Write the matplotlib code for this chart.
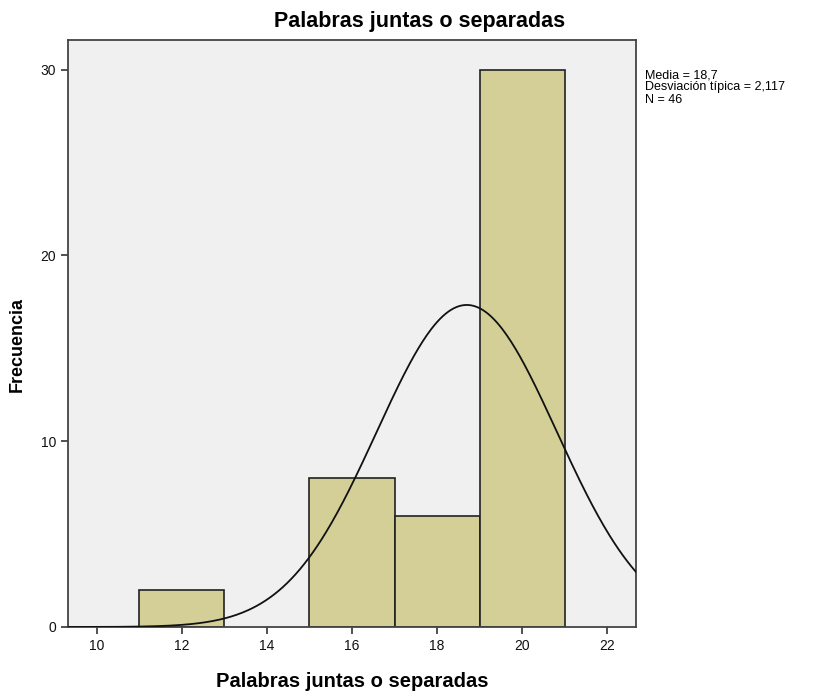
import numpy as np
import matplotlib.pyplot as plt

plt.rcParams['font.family'] = ['Liberation Sans', 'DejaVu Sans']

# histogram data
bin_left = [9, 11, 13, 15, 17, 19, 21]
counts = [0, 2, 0, 8, 6, 30, 0]
bin_width = 2
media = 18.7
desv = 2.117
n = 46

fig = plt.figure(figsize=(8.15, 6.91), dpi=100)
ax = fig.add_axes([68/815, 1-627/691, (636-68)/815, (627-40)/691])
ax.set_facecolor('#F0F0F0')

for x, c in zip(bin_left, counts):
    if c > 0:
        ax.bar(x, c, width=bin_width, align='edge', color='#D4CF97',
               edgecolor='#222222', linewidth=1.2, zorder=2)

# normal curve from the stats
xs = np.linspace(9.3, 22.7, 400)
ys = n * bin_width / (desv * np.sqrt(2*np.pi)) * np.exp(-0.5*((xs-media)/desv)**2)
ax.plot(xs, ys, color='#111111', linewidth=1.3, zorder=3)

ax.set_xlim(9.32, 22.68)
ax.set_ylim(0, 31.6)
ax.set_xticks([10, 12, 14, 16, 18, 20, 22])
ax.set_yticks([0, 10, 20, 30])
ax.tick_params(direction='out', length=5, width=1.2, color='#333333',
               labelsize=10, labelcolor='#111111')
for s in ax.spines.values():
    s.set_color('#444444')
    s.set_linewidth(1.3)

fig.text(420/815, 1-21/691, 'Palabras juntas o separadas', fontsize=15.5,
         fontweight='bold', ha='center', va='center')
ax.set_xlabel('Palabras juntas o separadas', fontsize=14.5, fontweight='bold', labelpad=14)
ax.set_ylabel('Frecuencia', fontsize=13, fontweight='bold')
ax.yaxis.set_label_coords(-42/568, (627-344)/587)

fig.text(645/815, 1-69/691, 'Media = 18,7\nDesviación típica = 2,117\nN = 46',
         fontsize=9, va='top', ha='left', linespacing=1.05)

fig.savefig('out.png', dpi=100, facecolor='white')
